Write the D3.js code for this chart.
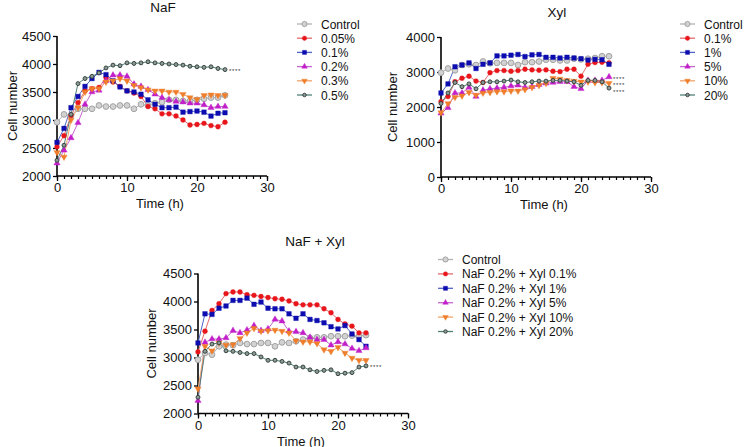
<!DOCTYPE html>
<html><head><meta charset="utf-8">
<script src="https://cdn.jsdelivr.net/npm/d3@7"></script>
<style>
body{margin:0;background:#fff;}
svg{display:block;font-family:"Liberation Sans",Arial,sans-serif;}
</style></head>
<body><svg id="chart" width="745" height="447"></svg>
<script>
// ---------- data ----------
const hours = [0,1,2,3,4,5,6,7,8,9,10,11,12,13,14,15,16,17,18,19,20,21,22,23,24];
const xTicks = [0,10,20,30];
const nafYTicks = [2000,2500,3000,3500,4000,4500];
const xylYTicks = [0,1000,2000,3000,4000];
const mixYTicks = [2000,2500,3000,3500,4000,4500];

const nafLabels = ["Control","0.05%","0.1%","0.2%","0.3%","0.5%"];
const nafControl = [2960,3100,3080,3200,3200,3200,3260,3240,3240,3260,3260,3200,3280,3260,3300,3320,3360,3360,3340,3340,3360,3380,3400,3400,3440];
const naf005 = [2520,2720,3080,3310,3520,3560,3580,3760,3680,3600,3520,3480,3420,3240,3200,3110,3110,3070,3000,2910,2920,2940,2900,2880,2960];
const naf01  = [2600,2850,3220,3420,3600,3740,3850,3810,3700,3590,3520,3500,3460,3360,3280,3220,3220,3230,3140,3150,3160,3140,3070,3120,3130];
const naf02  = [2230,2460,2680,2950,3280,3500,3530,3700,3800,3800,3780,3640,3600,3540,3460,3400,3360,3330,3320,3300,3300,3270,3220,3240,3240];
const naf03  = [2420,2340,3000,3220,3500,3560,3560,3680,3700,3740,3700,3620,3580,3540,3520,3520,3500,3500,3460,3400,3370,3440,3450,3440,3440];
const naf05  = [2280,2550,3100,3650,3740,3780,3840,3930,3980,3970,4020,4010,4020,4040,4020,4010,4000,3990,3980,3960,3950,3940,3950,3920,3900];

const xylLabels = ["Control","0.1%","1%","5%","10%","20%"];
const xylControl = [2980,3100,3050,3200,3220,3200,3300,3250,3260,3260,3260,3200,3280,3280,3300,3350,3350,3330,3330,3380,3360,3380,3400,3450,3450];
const xyl01  = [2150,2300,2720,2820,2880,2740,2700,2980,3040,3040,3020,3040,3080,3060,3050,3060,3020,3010,3080,3080,2880,3220,3270,3280,3260];
const xyl1   = [2400,2660,3150,3200,3260,3100,3220,3260,3460,3460,3480,3500,3440,3490,3500,3420,3420,3400,3420,3400,3380,3340,3360,3350,3220];
const xyl5   = [1820,1980,2400,2400,2560,2300,2480,2520,2540,2560,2600,2620,2560,2580,2640,2680,2700,2720,2720,2580,2520,2760,2760,2760,2860];
const xyl10  = [1840,2100,2280,2320,2420,2340,2400,2420,2440,2440,2460,2460,2500,2560,2620,2680,2820,2800,2760,2740,2720,2720,2700,2700,2680];
const xyl20  = [2100,2400,2700,2580,2660,2520,2700,2720,2720,2740,2770,2720,2700,2720,2740,2740,2760,2760,2740,2720,2620,2760,2760,2720,2540];

const mixLabels = ["Control","NaF 0.2% + Xyl 0.1%","NaF 0.2% + Xyl 1%","NaF 0.2% + Xyl 5%","NaF 0.2% + Xyl 10%","NaF 0.2% + Xyl 20%"];
const mixControl = [2960,3080,3050,3200,3230,3220,3260,3240,3240,3260,3260,3200,3270,3260,3290,3320,3350,3360,3360,3380,3380,3380,3390,3380,3400];
const mix01 = [3100,3470,3840,3960,4140,4170,4170,4120,4110,4090,4070,4050,4040,4010,3960,3940,3940,3940,3870,3800,3680,3600,3560,3440,3440];
const mix1  = [3260,3780,3770,3880,3920,4020,4020,4060,3950,3990,3880,3870,3870,3780,3700,3780,3680,3660,3620,3550,3510,3570,3420,3320,3200];
const mix5  = [2230,3270,3330,3330,3350,3480,3440,3490,3570,3480,3510,3680,3650,3470,3460,3440,3360,3320,3320,3220,3280,3240,3160,3120,3170];
const mix10 = [2440,3200,3120,3260,3220,3230,3340,3440,3520,3470,3480,3490,3470,3440,3300,3280,3280,3250,3140,3110,3180,3080,2990,2950,2950];
const mix20 = [2290,3110,3240,3260,3120,3110,3090,3070,3070,3010,2950,2950,2930,2900,2830,2830,2780,2750,2770,2780,2710,2720,2730,2830,2850];

const sigMark = "****";
const nafSig = [3890];
const xylSig = [2840,2660,2480];
const mixSig = [2850];

// ---------- styles ----------
const styles = [
  {sym:d3.symbolCircle, size:26, fill:"#d2d2d2", stroke:"#a3a3a3", line:"#b3b3b3", sw:1},
  {sym:d3.symbolCircle, size:19, fill:"#e8161b", stroke:"#e8161b", line:"#e46a6c", sw:0.4},
  {sym:d3.symbolSquare, size:21, fill:"#0c0cb0", stroke:"#0c0cb0", line:"#5065c8", sw:0.4},
  {sym:d3.symbolTriangle, size:17, fill:"#c21fc9", stroke:"#c21fc9", line:"#c765cf", sw:0.4},
  {sym:"down", size:17, fill:"#f07d2a", stroke:"#f07d2a", line:"#f1a468", sw:0.4},
  {sym:d3.symbolCircle, size:12, fill:"#8d9a96", stroke:"#36443f", line:"#4f8076", sw:1}
];

const svg = d3.select("#chart");
const FONT = "Liberation Sans, Arial, sans-serif";

function markerPath(st){
  if (st.sym === "down") return d3.symbol(d3.symbolTriangle, st.size)();
  return d3.symbol(st.sym, st.size)();
}
function drawMarker(g, x, y, st){
  return g.append("path").attr("d", markerPath(st))
    .attr("transform", `translate(${x},${y})` + (st.sym==="down" ? " rotate(180)" : ""))
    .attr("fill", st.fill).attr("stroke", st.stroke).attr("stroke-width", st.sw);
}

function panel(cfg){
  const x = d3.scaleLinear().domain([0,30]).range([cfg.x0, cfg.x1]);
  const y = d3.scaleLinear().domain(cfg.yDomain).range([cfg.yBottom, cfg.yTop]);
  const g = svg.append("g");

  const xa = g.append("g").attr("transform", `translate(0,${cfg.yBottom})`)
    .call(d3.axisBottom(x).tickValues(xTicks).tickSize(5).tickPadding(2).tickFormat(d3.format("d")));
  const xm = g.append("g").attr("transform", `translate(0,${cfg.yBottom})`)
    .call(d3.axisBottom(x).tickValues(d3.range(0,31)).tickSize(3).tickFormat(""));
  xm.select(".domain").remove();
  xm.selectAll("line").attr("stroke","#000").attr("stroke-width",1.2);
  const ya = g.append("g").attr("transform", `translate(${cfg.x0},0)`)
    .call(d3.axisLeft(y).tickValues(cfg.yTicks).tickSize(4).tickPadding(2).tickFormat(d3.format("d")));
  [xa, ya].forEach(a=>{
    a.select(".domain").attr("stroke","#000").attr("stroke-width",1.6);
    a.selectAll(".tick line").attr("stroke","#000").attr("stroke-width",1.3);
    a.selectAll("text").attr("font-size",13).attr("font-family",FONT).attr("fill","#111");
  });
  ya.select(".domain").attr("d", `M-0,${cfg.yBottom}V${cfg.yTop}`);
  xa.select(".domain").attr("d", `M${cfg.x0},0H${cfg.x1}`);

  const line = d3.line().x((d,i)=>x(hours[i])).y(d=>y(d));
  cfg.series.forEach((s,k)=>{
    const st = styles[k];
    g.append("path").datum(s).attr("d", line).attr("fill","none")
      .attr("stroke", st.line).attr("stroke-width",1);
  });
  cfg.series.forEach((s,k)=>{
    const st = styles[k];
    s.forEach((v,i)=> drawMarker(g, x(hours[i]), y(v), st));
  });

  cfg.sig.forEach(v=>{
    g.append("text").attr("x", x(24)+4).attr("y", y(v)+3.3).text(sigMark)
      .attr("font-size",6).attr("font-family",FONT).attr("fill","#333").attr("letter-spacing",0.7);
  });

  g.append("text").attr("x", cfg.titleX).attr("y", cfg.titleY).attr("text-anchor","middle")
    .attr("font-size",13.5).attr("font-family",FONT).attr("fill","#111").text(cfg.title);
  g.append("text").attr("x", (cfg.x0+cfg.x1)/2 - 2).attr("y", cfg.yBottom+32).attr("text-anchor","middle")
    .attr("font-size",13).attr("font-family",FONT).attr("fill","#111").text("Time (h)");
  g.append("text").attr("transform", `translate(${cfg.ylabX},${(cfg.yTop+cfg.yBottom)/2}) rotate(-90)`)
    .attr("text-anchor","middle").attr("font-size",13).attr("font-family",FONT).attr("fill","#111").text("Cell number");

  cfg.labels.forEach((lab,k)=>{
    const st = styles[k];
    const ly = cfg.legY + k*cfg.legStep;
    g.append("line").attr("x1",cfg.legX).attr("x2",cfg.legX+15).attr("y1",ly).attr("y2",ly)
      .attr("stroke",st.line).attr("stroke-width",1.3);
    drawMarker(g, cfg.legX+7.5, ly, {...st, size: st.size*0.8});
    g.append("text").attr("x", cfg.legX+24).attr("y", ly+4.5).text(lab)
      .attr("font-size",12).attr("font-family",FONT).attr("fill","#111");
  });
}

panel({x0:57, x1:267, yBottom:176, yTop:36, yDomain:[2000,4500], yTicks:nafYTicks,
  series:[nafControl,naf005,naf01,naf02,naf03,naf05], labels:nafLabels, sig:nafSig,
  title:"NaF", titleX:163, titleY:12, ylabX:16.5, legX:297, legY:24, legStep:14.2});

panel({x0:441, x1:651, yBottom:177, yTop:37, yDomain:[0,4000], yTicks:xylYTicks,
  series:[xylControl,xyl01,xyl1,xyl5,xyl10,xyl20], labels:xylLabels, sig:xylSig,
  title:"Xyl", titleX:557, titleY:17, ylabX:396.5, legX:680, legY:24, legStep:14.2});

panel({x0:198, x1:408, yBottom:413.5, yTop:273.5, yDomain:[2000,4500], yTicks:mixYTicks,
  series:[mixControl,mix01,mix1,mix5,mix10,mix20], labels:mixLabels, sig:mixSig,
  title:"NaF + Xyl", titleX:315, titleY:246, ylabX:156, legX:438, legY:259.5, legStep:14.4});
</script>
</body></html>
